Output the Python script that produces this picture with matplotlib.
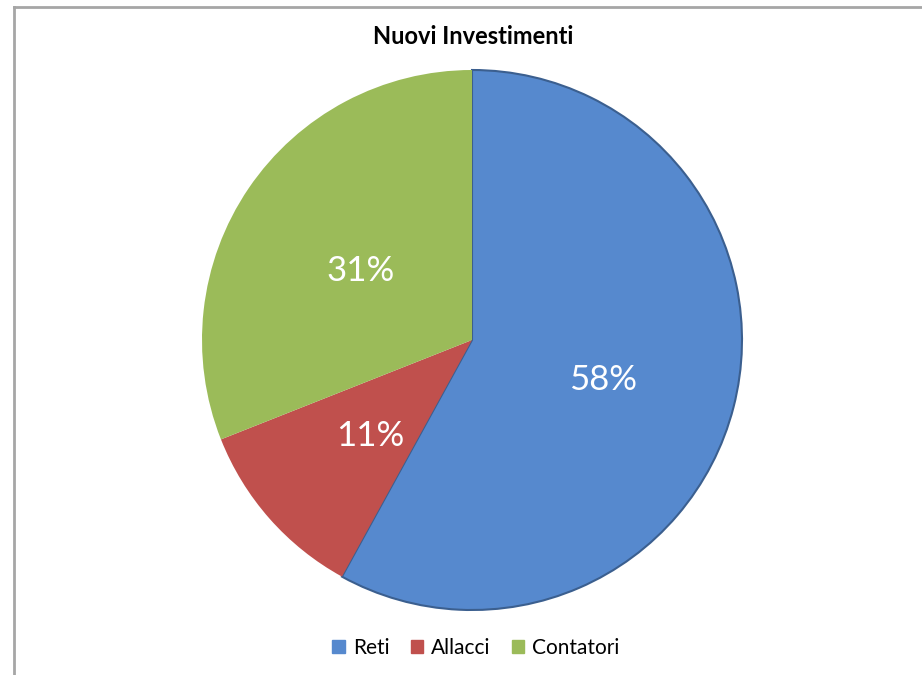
import matplotlib
matplotlib.use("Agg")
import matplotlib.pyplot as plt
from matplotlib.lines import Line2D

plt.rcParams['font.family'] = ['Lato', 'DejaVu Sans']

categories = ['Reti', 'Allacci', 'Contatori']
values = [58, 11, 31]
colors = ['#5689CE', '#C0504D', '#9BBB59']
title = 'Nuovi Investimenti'

fig = plt.figure(figsize=(9.22, 6.75), dpi=100)

# gray frame on left and top edges
fig.add_artist(Line2D([14/922, 14/922], [0, 1 - 7/675], color='#A6A6A6', lw=2))
fig.add_artist(Line2D([14/922, 1], [1 - 7/675, 1 - 7/675], color='#A6A6A6', lw=2))

ax = fig.add_axes([(472 - 270) / 922, (675 - 340 - 270) / 675, 540 / 922, 540 / 675])
wedges, texts, autotexts = ax.pie(values, colors=colors, startangle=90, counterclock=False,
                                  autopct='%1.0f%%', pctdistance=0.5,
                                  textprops={'color': 'white', 'fontsize': 25})
wedges[0].set_edgecolor('#3B5F8F')
wedges[0].set_linewidth(1.5)
for t in autotexts:
    x, y = t.get_position()
    t.set_position((x, y - 0.024))
ax.set_xlim(-1, 1)
ax.set_ylim(-1, 1)
ax.set_aspect('equal')

fig.text(473 / 922, 1 - 37 / 675, title, ha='center', va='center', fontsize=17, fontweight='bold')

handles = [plt.Rectangle((0, 0), 1, 1, color=c) for c in colors]
fig.legend(handles, categories, loc='center', bbox_to_anchor=(476 / 922, 1 - 648 / 675), ncol=3,
           frameon=False, fontsize=15, handlelength=0.6, handleheight=0.6, handletextpad=0.4,
           columnspacing=1.0)

fig.savefig('out.png', dpi=100)
